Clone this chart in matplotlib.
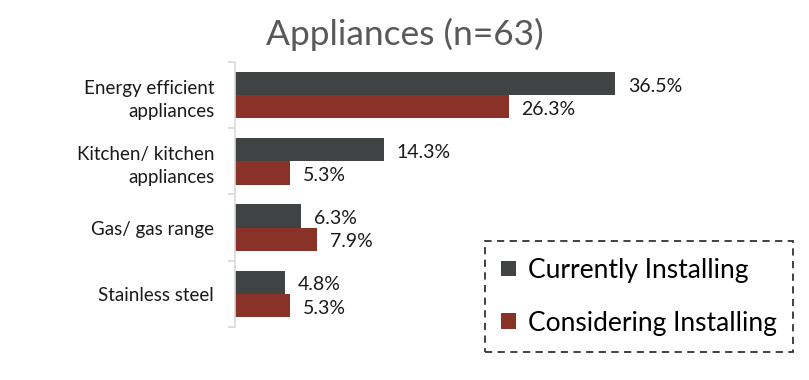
import numpy as np
import matplotlib.pyplot as plt

# data
categories = ['Energy efficient\nappliances', 'Kitchen/ kitchen\nappliances',
              'Gas/ gas range', 'Stainless steel']
currently = [36.5, 14.3, 6.3, 4.8]
considering = [26.3, 5.3, 7.9, 5.3]
series_names = ['Currently Installing', 'Considering Installing']

dark = '#404343'
red = '#8b3228'

plt.rcParams['font.family'] = ['Lato', 'DejaVu Sans']

fig = plt.figure(figsize=(8.09, 3.80), dpi=100)
ax = fig.add_axes([0.2905, 0.1395, 0.6428, 0.6974])

y = np.arange(len(categories))
h = 0.35
b1 = ax.barh(y - h / 2, currently, height=h, color=dark, label=series_names[0])
b2 = ax.barh(y + h / 2, considering, height=h, color=red, label=series_names[1])

for bars, vals in ((b1, currently), (b2, considering)):
    for bar, v in zip(bars, vals):
        ax.text(bar.get_width() + 1.25, bar.get_y() + bar.get_height() / 2 + 0.04,
                f'{v}%', va='center', ha='left', fontsize=14, color='#1a1a1a')

ax.set_ylim(len(categories) - 0.5, -0.5)
ax.set_xlim(0, 50)
ax.set_yticks(y)
ax.set_yticklabels(categories, fontsize=13.5, color='#1a1a1a', linespacing=1.45)
ax.tick_params(axis='y', which='major', length=0, pad=15)
ax.set_yticks(np.arange(-0.5, len(categories)), minor=True)
ax.tick_params(axis='y', which='minor', length=5, color='#d9d9d9', width=1.2)
ax.set_xticks([])
for s in ('top', 'right', 'bottom'):
    ax.spines[s].set_visible(False)
ax.spines['left'].set_color('#d9d9d9')
ax.spines['left'].set_linewidth(1.2)

fig.text(0.5, 0.91, 'Appliances (n=63)', ha='center', va='center',
         fontsize=25.5, color='#595959')

leg = fig.legend(handles=[b1, b2], loc='lower right',
                 bbox_to_anchor=(0.980, 0.074), borderaxespad=0, fontsize=19,
                 frameon=True, fancybox=False, handlelength=0.55,
                 handleheight=0.55, handletextpad=0.45, labelspacing=1.05,
                 borderpad=0.62)
frame = leg.get_frame()
frame.set_edgecolor('black')
frame.set_linestyle((0, (4, 3)))
frame.set_linewidth(1.3)

fig.savefig('out.png', dpi=100)
